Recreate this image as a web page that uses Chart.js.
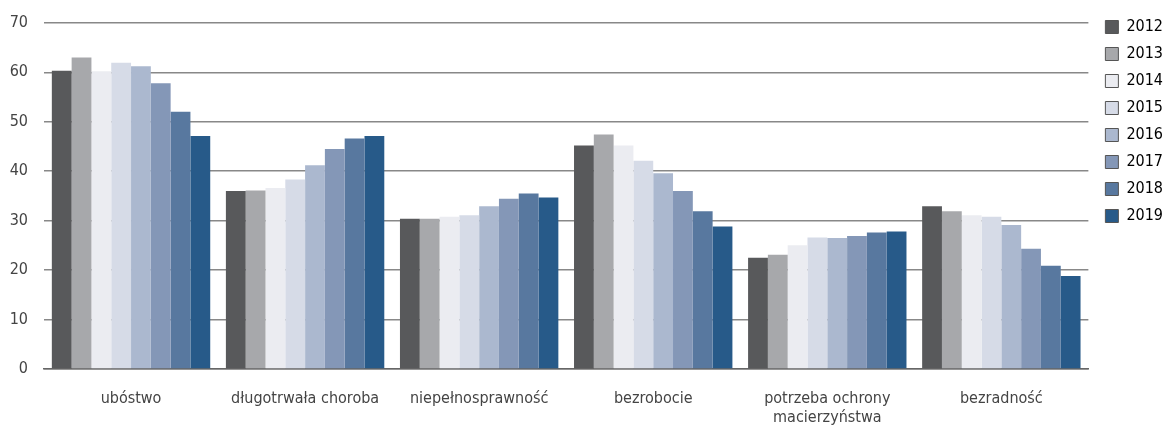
<!DOCTYPE html>
<html>
<head>
<meta charset="utf-8">
<script src="https://cdn.jsdelivr.net/npm/chart.js@4"></script>
<style>
  body { margin: 0; background: #fff; }
  #box { width: 1171px; height: 430px; }
</style>
</head>
<body>
<div id="box"><canvas id="bar_chart"></canvas></div>
<script>
const categories = ['ubóstwo', 'długotrwała choroba', 'niepełnosprawność', 'bezrobocie', ['potrzeba ochrony', 'macierzyństwa'], 'bezradność']
const years = ['2012', '2013', '2014', '2015', '2016', '2017', '2018', '2019']
const y2012 = [60.3, 36.0, 30.4, 45.2, 22.5, 32.9]
const y2013 = [63.0, 36.1, 30.4, 47.4, 23.1, 31.9]
const y2014 = [60.2, 36.6, 30.8, 45.2, 25.0, 31.1]
const y2015 = [61.9, 38.3, 31.1, 42.1, 26.6, 30.8]
const y2016 = [61.2, 41.2, 32.9, 39.6, 26.5, 29.1]
const y2017 = [57.8, 44.5, 34.4, 36.0, 26.9, 24.3]
const y2018 = [52.0, 46.6, 35.5, 31.9, 27.6, 20.9]
const y2019 = [47.1, 47.1, 34.7, 28.8, 27.8, 18.8]
const yTicks = [0, 10, 20, 30, 40, 50, 60, 70]

const series = [y2012, y2013, y2014, y2015, y2016, y2017, y2018, y2019]
const colors = ['#58595b', '#a7a8ab', '#ebecf1', '#d6dbe7', '#abb8cf', '#8497b7', '#58789f', '#275a89']

const font = "'DejaVu Sans Condensed', sans-serif"

const data_chart = {
    labels: categories,
    datasets: series.map((values, i) => ({
        label: years[i],
        data: values,
        backgroundColor: colors[i],
        borderWidth: 0,
        categoryPercentage: 0.91,
        barPercentage: 1
    }))
}

// push the legend a bit away from the plot
const legendGap = {
    id: 'legendGap',
    afterLayout: chart => { chart.legend.left += 6 }
}

const options_chart = {
    responsive: true,
    maintainAspectRatio: false,
    animation: false,
    layout: {
        padding: { left: 0, right: 4, top: 8, bottom: 0 }
    },
    plugins: {
        legend: {
            position: 'right',
            align: 'start',
            labels: {
                boxWidth: 13,
                boxHeight: 13,
                padding: 11,
                color: '#444',
                font: { family: font, size: 16 },
                generateLabels: chart => chart.data.datasets.map((ds, i) => ({
                    text: ds.label,
                    fillStyle: ds.backgroundColor,
                    strokeStyle: '#555',
                    lineWidth: 1,
                    datasetIndex: i
                }))
            }
        },
        tooltip: { enabled: false }
    },
    scales: {
        x: {
            grid: { display: false },
            border: { color: '#666', width: 1.5 },
            afterFit: axis => { axis.height = 61 },
            ticks: {
                color: '#444',
                font: { family: font, size: 16 },
                padding: 12,
                maxRotation: 0
            }
        },
        y: {
            min: 0,
            max: 70,
            afterBuildTicks: axis => { axis.ticks = yTicks.map(v => ({ value: v })) },
            afterFit: axis => { axis.width = 44 },
            grid: { color: '#888', lineWidth: 1.5, drawTicks: false },
            border: { display: false },
            ticks: {
                color: '#444',
                font: { family: font, size: 16, lineHeight: 0.85 },
                padding: 16
            }
        }
    }
}

new Chart(document.querySelector('#bar_chart'), {
    type: 'bar',
    data: data_chart,
    options: options_chart,
    plugins: [legendGap]
})
</script>
</body>
</html>
